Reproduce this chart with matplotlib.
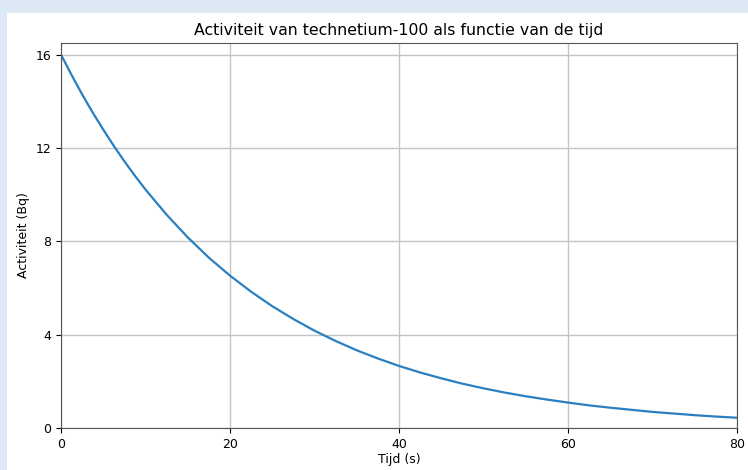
import numpy as np
import matplotlib.pyplot as plt
from matplotlib.patches import Rectangle

# waarden ----------------------------------------
tijd = [0, 1.25, 2.5, 3.75, 5, 6.25, 7.5, 8.75, 10, 12.5, 15, 17.5, 20, 22.5, 25, 27.5,
        30, 32.5, 35, 37.5, 40, 42.5, 45, 47.5, 50, 52.5, 55, 57.5, 60, 62.5, 65, 67.5,
        70, 72.5, 75, 77.5, 80]
activiteit = [16.0, 15.13, 14.30, 13.52, 12.79, 12.09, 11.43, 10.81, 10.22, 9.14, 8.17,
              7.30, 6.53, 5.84, 5.22, 4.67, 4.17, 3.73, 3.33, 2.98, 2.66, 2.38, 2.13,
              1.90, 1.70, 1.52, 1.36, 1.22, 1.09, 0.97, 0.87, 0.78, 0.69, 0.62, 0.55,
              0.49, 0.44]
x_ticks = [0, 20, 40, 60, 80]
y_ticks = [0, 4, 8, 12, 16]

fig = plt.figure(figsize=(7.48, 4.70), dpi=100, facecolor='#dce8f4')
fig.patches.append(Rectangle((7 / 748, 0), 1, 1 - 13 / 470, transform=fig.transFigure,
                             facecolor='white', edgecolor='none', zorder=-10))

ax = fig.add_axes([61 / 748, 1 - 428 / 470, (737 - 61) / 748, (428 - 43) / 470])
ax.plot(tijd, activiteit, color='#2a7fc0', linewidth=1.6)

ax.set_xlim(0, 80)
ax.set_ylim(0, 16.5)
ax.set_xticks(x_ticks)
ax.set_yticks(y_ticks)
ax.tick_params(labelsize=9)
ax.grid(True, color='#c4c4c4', linewidth=1)
for s in ax.spines.values():
    s.set_color('#555555')

ax.set_title('Activiteit van technetium-100 als functie van de tijd', fontsize=11.3)
ax.set_xlabel('Tijd (s)', fontsize=9, labelpad=2)
ax.set_ylabel('Activiteit (Bq)', fontsize=9)

fig.savefig('out.png', dpi=100, facecolor=fig.get_facecolor())
